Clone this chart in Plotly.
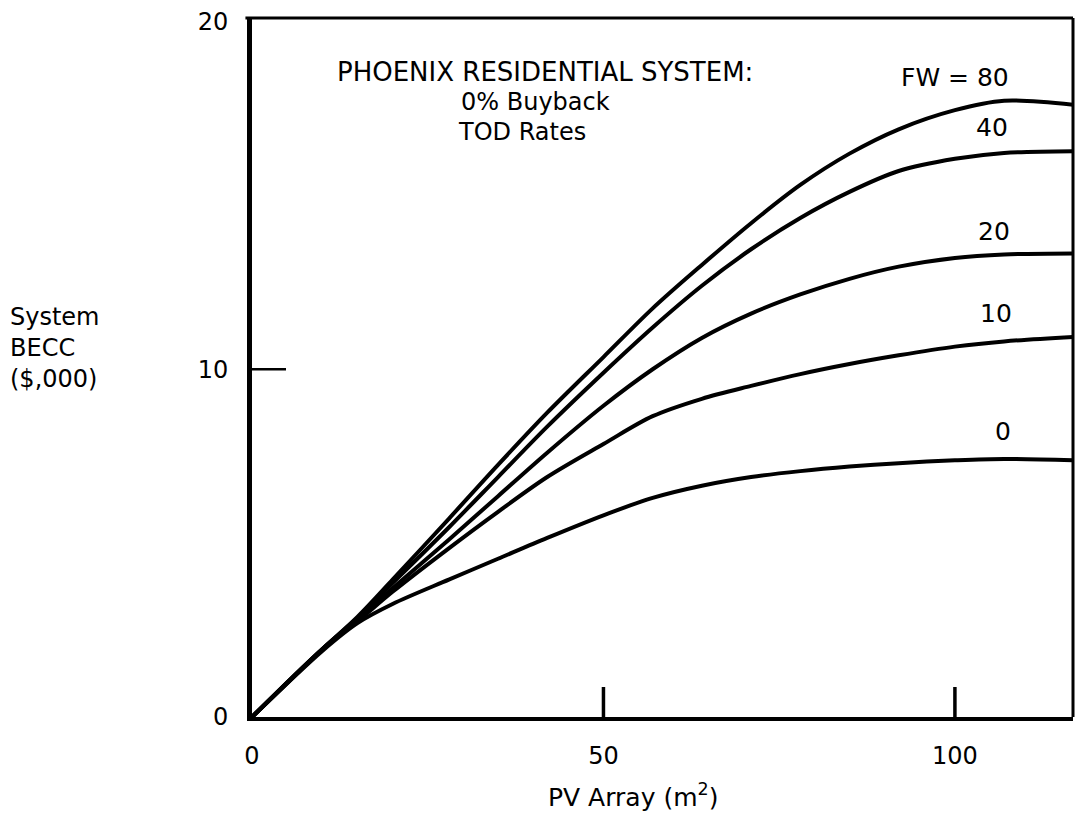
import plotly.graph_objects as go

pv_area = [0, 10, 15, 20, 28, 35, 42, 50, 57, 64, 71, 78, 85, 92, 100, 107, 117]
becc_fw80 = [0, 1.95, 2.88, 3.95, 5.7, 7.25, 8.75, 10.35, 11.75, 13.0, 14.2, 15.3, 16.2, 16.9, 17.45, 17.72, 17.6]
becc_fw40 = [0, 1.95, 2.85, 3.85, 5.45, 6.9, 8.35, 9.9, 11.2, 12.4, 13.45, 14.35, 15.1, 15.7, 16.05, 16.22, 16.27]
becc_fw20 = [0, 1.95, 2.8, 3.7, 5.1, 6.35, 7.6, 8.95, 10.0, 10.9, 11.6, 12.15, 12.6, 12.95, 13.2, 13.3, 13.33]
becc_fw10 = [0, 1.95, 2.75, 3.6, 4.85, 5.9, 6.9, 7.85, 8.65, 9.15, 9.52, 9.86, 10.15, 10.4, 10.65, 10.8, 10.93]
becc_fw0 = [0, 1.9, 2.7, 3.25, 3.95, 4.55, 5.15, 5.8, 6.3, 6.65, 6.9, 7.07, 7.2, 7.3, 7.38, 7.42, 7.38]

series = [("80", becc_fw80), ("40", becc_fw40), ("20", becc_fw20), ("10", becc_fw10), ("0", becc_fw0)]
curve_labels = ["FW = 80", "40", "20", "10", "0"]
label_x = [100.0, 105.3, 105.6, 105.8, 106.9]
label_y = [18.4, 16.95, 13.95, 11.6, 8.2]

x_ticks = [0, 50, 100]
y_ticks = [0, 10, 20]
x_marks = [50, 100]
y_marks = [10]

FONT = "DejaVu Sans, Liberation Sans, Arial, sans-serif"
X_MAX, Y_MAX = 116.8, 20.1
PLOT_W, PLOT_H = 821, 699

fig = go.Figure()
for name, ys in series:
    fig.add_trace(go.Scatter(x=pv_area, y=ys, mode="lines", name="FW=" + name,
                             line=dict(color="black", width=4, shape="spline", smoothing=0.9),
                             showlegend=False))

for t, lx, ly in zip(curve_labels, label_x, label_y):
    fig.add_annotation(x=lx, y=ly, text=t, showarrow=False, xanchor="center", yanchor="middle",
                       font=dict(family=FONT, size=25, color="black"))

def px_to_x(px):
    return (px - 252) / (PLOT_W / X_MAX)

def py_to_y(py):
    return (717 - py) / (PLOT_H / Y_MAX)

fig.add_annotation(x=px_to_x(335), y=py_to_y(72), text="PHOENIX RESIDENTIAL SYSTEM:",
                   showarrow=False, xanchor="left", yanchor="middle",
                   font=dict(family=FONT, size=26, color="black"))
fig.add_annotation(x=px_to_x(459), y=py_to_y(102), text="0% Buyback",
                   showarrow=False, xanchor="left", yanchor="middle",
                   font=dict(family=FONT, size=24, color="black"))
fig.add_annotation(x=px_to_x(456), y=py_to_y(132), text="TOD Rates",
                   showarrow=False, xanchor="left", yanchor="middle",
                   font=dict(family=FONT, size=24, color="black"))

# axis titles
fig.add_annotation(xref="paper", yref="paper", x=(633 - 252) / PLOT_W, y=-(795 - 717) / PLOT_H,
                   text="PV Array (m<sup>2</sup>)", showarrow=False, xanchor="center", yanchor="middle",
                   font=dict(family=FONT, size=25, color="black"))
fig.add_annotation(xref="paper", yref="paper", x=-(252 - 8) / PLOT_W, y=(717 - 348) / PLOT_H,
                   text="System<br>BECC<br>($,000)", showarrow=False, xanchor="left", yanchor="middle",
                   align="left", font=dict(family=FONT, size=24, color="black"))

# frame: thin top and right
fig.add_shape(type="line", xref="paper", yref="paper", x0=-0.008, x1=1, y0=1, y1=1,
              line=dict(color="black", width=3))
fig.add_shape(type="line", xref="paper", yref="paper", x0=1, x1=1, y0=0, y1=1,
              line=dict(color="black", width=3))

# inside tick marks
for xv in x_marks:
    fig.add_shape(type="line", xref="x", yref="paper", x0=xv, x1=xv, y0=0, y1=30 / PLOT_H,
                  line=dict(color="black", width=3.5))
for yv in y_marks:
    fig.add_shape(type="line", xref="paper", yref="y", x0=0, x1=34 / PLOT_W, y0=yv, y1=yv,
                  line=dict(color="black", width=2.5))

fig.update_xaxes(range=[0, X_MAX], tickvals=x_ticks, ticktext=[str(v) for v in x_ticks],
                 ticks="", showline=True, linewidth=4, linecolor="black", showgrid=False, zeroline=False,
                 tickfont=dict(family=FONT, size=24, color="black"), ticklabelstandoff=14)
fig.update_yaxes(range=[0, Y_MAX], tickvals=y_ticks, ticktext=[str(v) for v in y_ticks],
                 ticks="", showline=True, linewidth=5, linecolor="black", showgrid=False, zeroline=False,
                 tickfont=dict(family=FONT, size=24, color="black"), ticklabelstandoff=14)

fig.update_layout(width=1079, height=813, margin=dict(l=252, r=6, t=18, b=96),
                  plot_bgcolor="white", paper_bgcolor="white", showlegend=False)

fig.write_html("out.html")
